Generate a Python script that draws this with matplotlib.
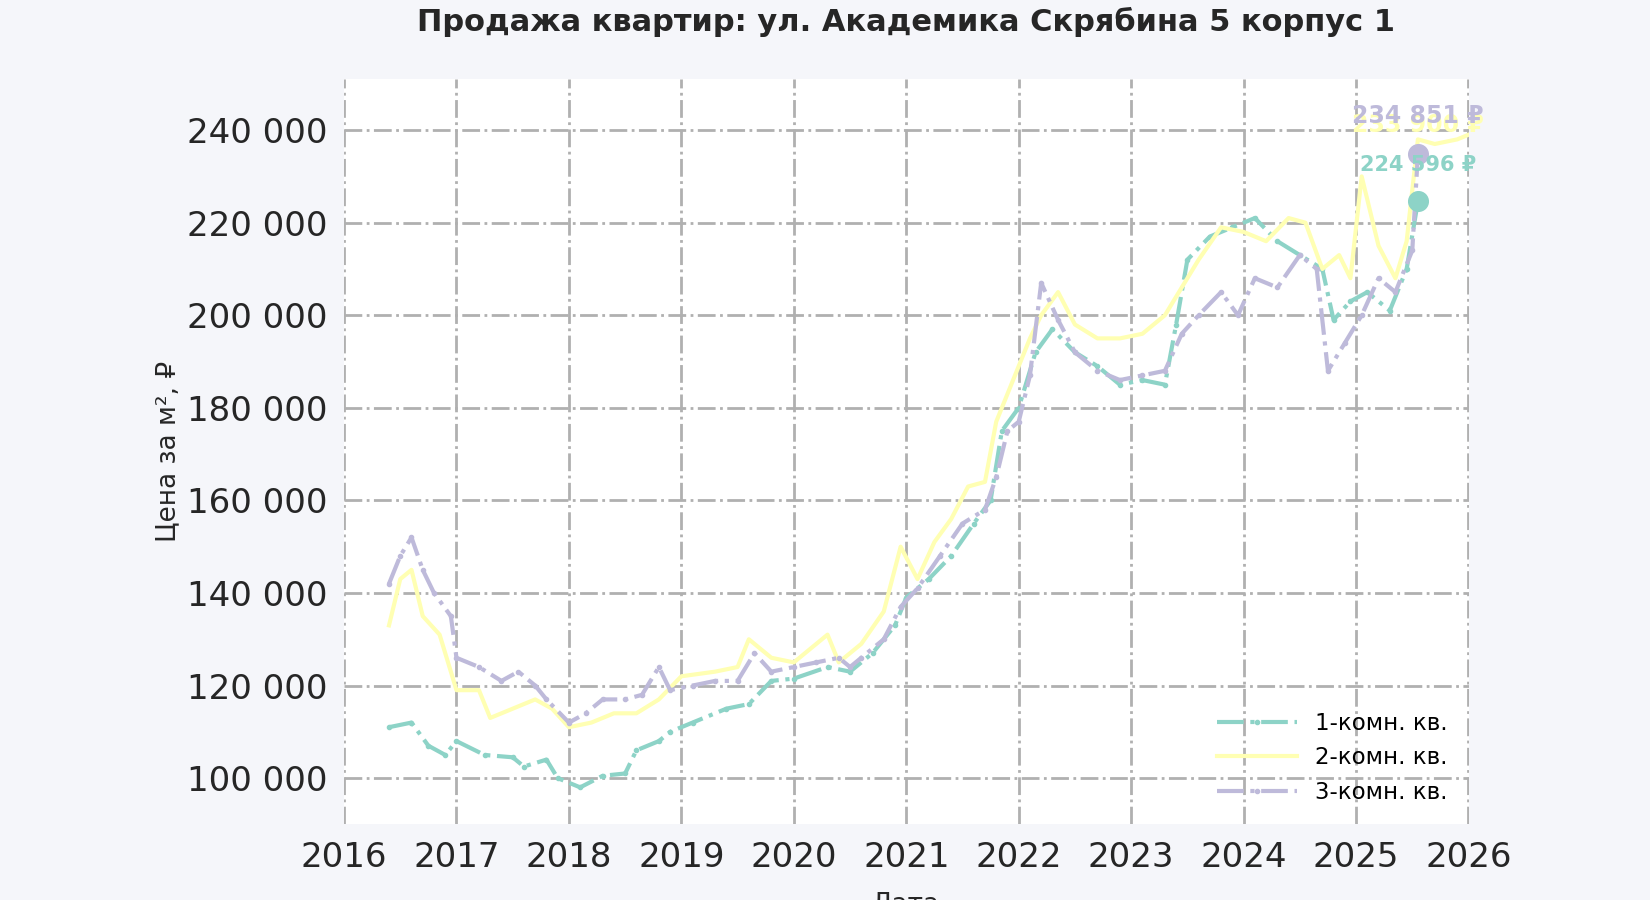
import matplotlib
matplotlib.use("Agg")
import matplotlib.pyplot as plt
from matplotlib.ticker import FuncFormatter

t1 = [2016.4,2016.6,2016.75,2016.9,2017.0,2017.25,2017.5,2017.6,2017.8,2017.9,2018.1,2018.3,2018.5,2018.6,2018.8,2018.9,2019.1,2019.4,2019.6,2019.8,2020.0,2020.3,2020.5,2020.7,2020.9,2021.0,2021.2,2021.4,2021.6,2021.75,2021.85,2022.0,2022.15,2022.3,2022.5,2022.7,2022.9,2023.1,2023.3,2023.4,2023.5,2023.7,2023.9,2024.1,2024.3,2024.5,2024.7,2024.8,2024.95,2025.1,2025.3,2025.45,2025.55]
v1 = [111000,112000,107000,105000,108000,105000,104500,102500,104000,100000,98000,100500,101000,106000,108000,110000,112000,115000,116000,121000,121500,124000,123000,127000,133000,139000,143000,148000,155000,160000,175000,180000,192000,197000,192000,189000,185000,186000,185000,198000,212000,217000,219000,221000,216000,213000,210000,199000,203000,205000,201000,210000,224596]
t2 = [2016.4,2016.5,2016.6,2016.7,2016.85,2016.95,2017.0,2017.2,2017.3,2017.5,2017.7,2017.85,2018.0,2018.2,2018.4,2018.6,2018.8,2019.0,2019.3,2019.5,2019.6,2019.8,2020.0,2020.3,2020.4,2020.6,2020.8,2020.95,2021.1,2021.25,2021.4,2021.55,2021.7,2021.8,2021.95,2022.1,2022.2,2022.35,2022.5,2022.7,2022.9,2023.1,2023.3,2023.45,2023.6,2023.8,2024.0,2024.2,2024.4,2024.55,2024.7,2024.85,2024.95,2025.05,2025.2,2025.35,2025.45,2025.55,2025.7,2025.9,2026.0]
v2 = [133000,143000,145000,135000,131000,123000,119000,119000,113000,115000,117000,115000,111000,112000,114000,114000,117000,122000,123000,124000,130000,126000,125000,131000,125000,129000,136000,150000,143000,151000,156000,163000,164000,177000,186000,195000,200000,205000,198000,195000,195000,196000,200000,206000,212000,219000,218000,216000,221000,220000,210000,213000,208000,230000,215000,208000,216000,238000,237000,238000,239000]
t3 = [2016.4,2016.5,2016.6,2016.7,2016.8,2016.95,2017.0,2017.2,2017.4,2017.55,2017.7,2017.8,2018.0,2018.15,2018.3,2018.5,2018.65,2018.8,2018.9,2019.1,2019.3,2019.5,2019.65,2019.8,2020.0,2020.2,2020.4,2020.5,2020.6,2020.8,2020.95,2021.1,2021.3,2021.5,2021.7,2021.8,2021.9,2022.0,2022.1,2022.2,2022.35,2022.5,2022.7,2022.9,2023.1,2023.3,2023.45,2023.6,2023.8,2023.95,2024.1,2024.3,2024.5,2024.65,2024.75,2024.9,2025.05,2025.2,2025.35,2025.5,2025.55]
v3 = [142000,148000,152000,145000,140000,135000,126000,124000,121000,123000,120000,117000,112000,114000,117000,117000,118000,124000,119000,120000,121000,121000,127000,123000,124000,125000,126000,124000,126000,130000,137000,141000,148000,155000,158000,165000,175000,177000,187000,207000,199000,192000,188000,186000,187000,188000,196000,200000,205000,200000,208000,206000,213000,210000,188000,194000,200000,208000,205000,214000,234851]
labels = ["1-комн. кв.", "2-комн. кв.", "3-комн. кв."]
last_labels = ["224 596 ₽", "233 900 ₽", "234 851 ₽"]
xticks = list(range(2016, 2027))
yticks = [100000,120000,140000,160000,180000,200000,220000,240000]

colors = ["#8dd3c7", "#ffffb3", "#bebada"]
fig = plt.figure(figsize=(16.5, 9), dpi=100, facecolor="#f5f6fa")
ax = fig.add_axes([0.2085, 0.084, 0.6815, 0.828])
ax.set_facecolor("white")
for s in ax.spines.values():
    s.set_visible(False)
ax.grid(True, color="#b0b0b0", linestyle="-.", linewidth=2)
ax.set_axisbelow(True)

ax.plot(t1, v1, color=colors[0], linestyle="-.", linewidth=3, marker="o", markersize=3, label=labels[0])
ax.plot(t2, v2, color=colors[1], linestyle="-", linewidth=3, label=labels[1])
ax.plot(t3, v3, color=colors[2], linestyle="-.", linewidth=3, marker="o", markersize=3, label=labels[2])

# yellow label drawn first (hidden underneath purple one, as in reference)
ax.annotate(last_labels[1], (t3[-1], v3[-1]), xytext=(0, 16), textcoords="offset points",
            ha="center", color=colors[1], fontsize=17, fontweight="bold", zorder=4)
for t, v, c, lab in [(t1, v1, colors[0], last_labels[0]), (t3, v3, colors[2], last_labels[2])]:
    ax.scatter([t[-1]], [v[-1]], s=200, color=c, zorder=5)
    ax.annotate(lab, (t[-1], v[-1]), xytext=(0, 22), textcoords="offset points",
                ha="center", color=c, fontsize=17 if c == colors[2] else 15, fontweight="bold", zorder=6)

ax.set_xlim(2016, 2026)
ax.set_ylim(90000, 251000)
ax.set_xticks(xticks)
ax.set_yticks(yticks)
ax.yaxis.set_major_formatter(FuncFormatter(lambda v, p: f"{int(v):,}".replace(",", " ")))
ax.tick_params(axis="both", labelsize=24.5, length=0, colors="#262626", pad=12)
ax.set_ylabel("Цена за м², ₽", fontsize=19, color="#262626")
ax.set_xlabel("Дата", fontsize=19, color="#262626", labelpad=12)
ax.set_title("Продажа квартир: ул. Академика Скрябина 5 корпус 1", fontsize=22, fontweight="bold", color="#262626", pad=35)
ax.legend(loc="lower right", frameon=False, fontsize=16.5, handlelength=3.5)
fig.savefig("out.png", dpi=100, facecolor=fig.get_facecolor())
